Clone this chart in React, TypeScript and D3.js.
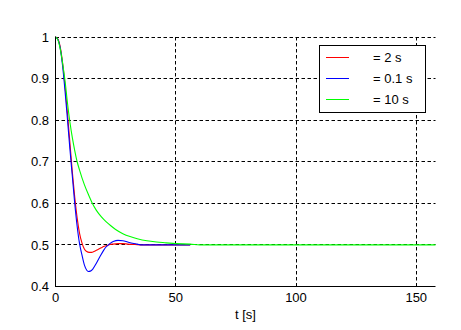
import React from "react";
import * as d3 from "d3";

const W = 461;
const H = 330;

const xTicks = [0, 50, 100, 150];
const yTicks = [0.4, 0.5, 0.6, 0.7, 0.8, 0.9, 1];
const xLabel = "t [s]";
const legendLabels = ["= 2 s", "= 0.1 s", "= 10 s"];
const colors = ["#ff0000", "#0000ff", "#00ff00"];

const redT = [0, 1, 2, 3, 4, 5, 6, 7, 8, 9, 10, 11, 12, 13, 14, 15, 16, 17, 18, 19, 20, 21, 22, 24, 26, 28, 30, 33, 36, 40, 56];
const redV = [1, 0.995, 0.975, 0.935, 0.88, 0.815, 0.745, 0.675, 0.615, 0.565, 0.528, 0.505, 0.49, 0.484, 0.482, 0.482, 0.484, 0.487, 0.49, 0.493, 0.496, 0.498, 0.5, 0.502, 0.503, 0.503, 0.502, 0.501, 0.5, 0.5, 0.5];

const blueT = [0, 1, 2, 3, 4, 5, 6, 7, 8, 9, 10, 11, 12, 13, 13.6, 14.5, 15.5, 17, 18.5, 20, 21, 22, 23, 24, 26, 28, 30, 32, 34, 36, 38, 56];
const blueV = [1, 0.994, 0.972, 0.928, 0.868, 0.8, 0.73, 0.665, 0.6, 0.545, 0.503, 0.476, 0.452, 0.439, 0.436, 0.437, 0.442, 0.456, 0.472, 0.487, 0.495, 0.5, 0.505, 0.508, 0.511, 0.51, 0.507, 0.504, 0.502, 0.5, 0.5, 0.5];

const greenT = [0, 1, 2, 3, 4, 5, 6, 7, 8, 9, 10, 12, 14, 15.3, 17, 19, 21, 23, 25, 28, 31, 34, 38, 42, 46, 50, 56, 60, 158];
const greenV = [1, 0.993, 0.97, 0.935, 0.893, 0.84, 0.795, 0.758, 0.727, 0.7, 0.68, 0.645, 0.617, 0.6, 0.583, 0.568, 0.556, 0.546, 0.537, 0.527, 0.52, 0.515, 0.51, 0.507, 0.505, 0.503, 0.502, 0.5, 0.5];

const seriesT = [redT, blueT, greenT];
const seriesV = [redV, blueV, greenV];

const FONT = "'Liberation Sans', Arial, sans-serif";

export default function App() {
  const x = d3.scaleLinear().domain([0, 158]).range([55.5, 435.5]);
  const y = d3.scaleLinear().domain([0.4, 1]).range([286.5, 37]);
  const px = (v: number) => Math.round(v - 0.5) + 0.5;

  const line = d3
    .line<[number, number]>()
    .x((d) => x(d[0]))
    .y((d) => y(d[1]))
    .curve(d3.curveMonotoneX);

  const x0 = x.range()[0];
  const x1 = x.range()[1];
  const y0 = y.range()[0];
  const y1 = y.range()[1];

  const legX = 319.5;
  const legY = 45.5;
  const legRows = [57, 78, 99];

  return (
    <svg
      width={W}
      height={H}
      style={{ position: "absolute", left: 0, top: 0, background: "#fff" }}
      fontFamily={FONT}
    >
      <rect x={0} y={0} width={W} height={H} fill="#fff" />
      {xTicks.slice(1).map((t) => (
        <line key={"gx" + t} x1={px(x(t))} x2={px(x(t))} y1={y1} y2={y0} stroke="#000" strokeDasharray="3.5,2.5" />
      ))}
      {yTicks.slice(1).map((t) => (
        <line key={"gy" + t} x1={x0} x2={x1} y1={px(y(t))} y2={px(y(t))} stroke="#000" strokeDasharray="3.5,2.5" />
      ))}
      {seriesT.map((ts, i) => (
        <path
          key={"s" + i}
          d={line(ts.map((t, j) => [t, seriesV[i][j]] as [number, number])) || ""}
          fill="none"
          stroke={colors[i]}
          strokeWidth={1.1}
        />
      ))}
      <line x1={x0} x2={x0} y1={y1 - 0.5} y2={y0} stroke="#000" />
      <line x1={x0 - 0.5} x2={x1} y1={y0} y2={y0} stroke="#000" />
      {xTicks.map((t) => (
        <text key={"xt" + t} x={x(t)} y={302} textAnchor="middle" fontSize={13} fill="#000">
          {t}
        </text>
      ))}
      {yTicks.map((t) => (
        <text key={"yt" + t} x={49} y={y(t)} dy="0.36em" textAnchor="end" fontSize={13} fill="#000">
          {String(t)}
        </text>
      ))}
      <text x={(x0 + x1) / 2} y={319} textAnchor="middle" fontSize={13} fill="#000">
        {xLabel}
      </text>
      <rect x={legX} y={legY} width={106} height={67} fill="#fff" stroke="#000" />
      {legendLabels.map((lab, i) => (
        <g key={"l" + i}>
          <line x1={326} x2={349} y1={legRows[i] + 0.5} y2={legRows[i] + 0.5} stroke={colors[i]} />
          <text x={373} y={legRows[i]} dy="0.36em" fontSize={13} fill="#000" style={{ whiteSpace: "pre" }}>
            {lab}
          </text>
        </g>
      ))}
    </svg>
  );
}
